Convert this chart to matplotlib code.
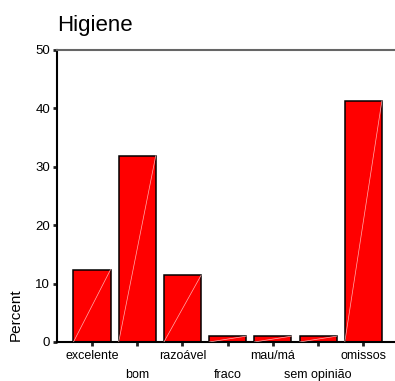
import numpy as np
import matplotlib.pyplot as plt

plt.rcParams['font.family'] = ['Liberation Sans', 'DejaVu Sans']

categories = ['excelente', 'bom', 'razoável', 'fraco', 'mau/má', 'sem opinião', 'omissos']
percent = [12.4, 31.9, 11.4, 1.0, 1.0, 1.0, 41.3]
yticks = [0, 10, 20, 30, 40, 50]

fig = plt.figure(figsize=(3.95, 3.81), dpi=100)
ax = fig.add_axes([57/395, 1 - 342/381, 1 - 57/395, (342 - 50)/381])

x = np.arange(len(categories))
w = 0.82
ax.bar(x, percent, width=w, color='#ff0000', edgecolor='black', linewidth=1.1, zorder=2)
# faint diagonal inside each bar
for xi, v in zip(x, percent):
    ax.plot([xi - w/2, xi + w/2], [0, v], color='#ffb0b0', linewidth=0.5, zorder=3)

ax.set_xlim(-0.774, 6.70)
ax.set_ylim(0, 50)
ax.set_yticks(yticks)
ax.set_xticks(x)
ax.set_xticklabels(categories, fontsize=9)
for i, t in enumerate(ax.xaxis.get_major_ticks()):
    t.set_pad(3 if i % 2 == 0 else 16.7)
ax.tick_params(axis='both', direction='out', length=3, width=2, color='#222222')
ax.tick_params(axis='y', labelsize=9.5, pad=2)

ax.spines['right'].set_visible(False)
ax.spines['top'].set_color('#666666')
ax.spines['top'].set_linewidth(1.5)
ax.spines['left'].set_linewidth(1.5)
ax.spines['bottom'].set_linewidth(1.5)

fig.text(16/395, 1 - 341/381, 'Percent', fontsize=11, rotation=90, ha='center', va='bottom')
fig.text(57/395, 1 - 31/381, 'Higiene', fontsize=16, va='baseline', ha='left')

fig.savefig('out.png', dpi=100)
